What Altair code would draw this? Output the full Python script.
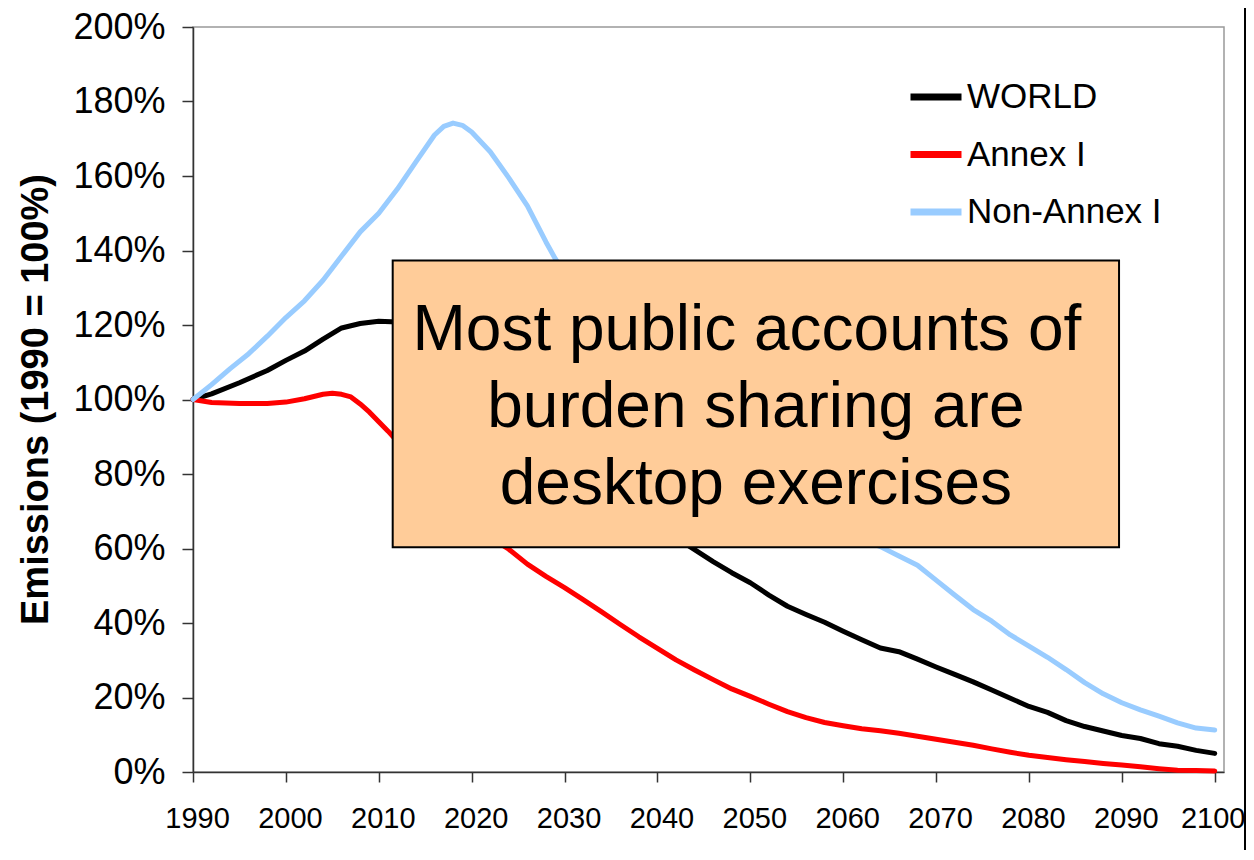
import altair as alt
import pandas as pd

FONT = "Liberation Sans"

# ---- data ----
series_names = ["WORLD", "Annex I", "Non-Annex I"]
series_colors = ["#000000", "#FF0000", "#99CCFF"]

world_years = [1990, 1992, 1995, 1998, 2000, 2002, 2004, 2006, 2008, 2010, 2012, 2015,
               2020, 2025, 2030, 2035, 2040, 2043, 2046, 2048, 2050, 2052, 2054, 2056,
               2058, 2060, 2062, 2064, 2066, 2068, 2070, 2072, 2074, 2076, 2078, 2080,
               2082, 2084, 2086, 2088, 2090, 2092, 2094, 2096, 2098, 2100]
world_vals = [100, 101.5, 104.5, 107.8, 110.5, 113, 116.2, 119.2, 120.4, 121, 120.8, 119,
              113, 103, 91, 79, 68, 61.3, 56.5, 53.5, 50.8, 47.5, 44.5, 42.3,
              40.2, 37.8, 35.5, 33.3, 32.3, 30.3, 28.2, 26.2, 24.2, 22, 19.8, 17.6,
              16, 13.8, 12.2, 11, 9.8, 9, 7.6, 6.9, 5.8, 5]

annex_years = [1990, 1992, 1995, 1998, 2000, 2002, 2004, 2005, 2006, 2007, 2008, 2009,
               2010, 2011, 2013, 2015, 2018, 2020, 2022, 2024, 2026, 2028, 2030, 2032,
               2034, 2036, 2038, 2040, 2042, 2044, 2046, 2048, 2050, 2052, 2054, 2056,
               2058, 2060, 2062, 2064, 2066, 2068, 2070, 2072, 2074, 2076, 2078, 2080,
               2082, 2084, 2086, 2088, 2090, 2092, 2094, 2096, 2098, 2100]
annex_vals = [100, 99.2, 98.9, 98.9, 99.3, 100.2, 101.4, 101.7, 101.4, 100.7, 98.8, 96.6,
              94, 91.5, 86, 80.5, 72.5, 67.5, 63, 59.8, 55.8, 52.5, 49.5, 46.3,
              43, 39.6, 36.3, 33.2, 30.1, 27.4, 24.8, 22.3, 20.3, 18.2, 16.2, 14.6,
              13.3, 12.4, 11.6, 11.1, 10.4, 9.6, 8.8, 8.0, 7.2, 6.2, 5.3, 4.5,
              3.9, 3.3, 2.8, 2.3, 1.9, 1.4, 0.9, 0.5, 0.4, 0.3]

nonannex_years = [1990, 1992, 1994, 1996, 1998, 2000, 2002, 2004, 2006, 2008, 2010, 2012,
                  2014, 2016, 2017, 2018, 2019, 2020, 2022, 2024, 2026, 2028, 2029, 2030,
                  2035, 2040, 2045, 2050, 2055, 2060, 2064, 2066, 2068, 2070, 2072, 2074,
                  2076, 2078, 2080, 2082, 2084, 2086, 2088, 2090, 2092, 2094, 2096, 2098, 2100]
nonannex_vals = [100, 104, 108.3, 112.3, 117, 122, 126.5, 132, 138.5, 145, 150, 156.5,
                 163.8, 171, 173.3, 174.2, 173.6, 171.8, 166.5, 159.5, 152, 142.3, 137.8, 134,
                 116, 100.5, 88, 78.5, 70.5, 64.5, 60.5, 58, 55.5, 51.5, 47.5, 43.6,
                 40.5, 36.8, 33.8, 30.8, 27.5, 24, 21, 18.6, 16.7, 15, 13.2, 11.8, 11.3]

x_ticks = list(range(1990, 2101, 10))
y_ticks = list(range(0, 201, 20))

# annotation box (data coordinates) and its text
box_years = [2011.5, 2089.7]
box_pcts = [60.35, 137.3]
note_first = ["Most public accounts of"]
note_rest = ["burden sharing are", "desktop exercises"]
note_pos = [2050.6, 113.2]

rows = []
for name, yrs, vals in zip(series_names,
                           [world_years, annex_years, nonannex_years],
                           [world_vals, annex_vals, nonannex_vals]):
    for yr, v in zip(yrs, vals):
        rows.append({"series": name, "year": yr, "value": v})
df = pd.DataFrame(rows)

x_scale = alt.Scale(domain=[1990, 2101], nice=False, zero=False)
y_scale = alt.Scale(domain=[0, 200], nice=False)

x_axis = alt.Axis(values=x_ticks, format="d", title=None, labelFontSize=29,
                  labelFont=FONT, labelColor="#000", tickSize=10, labelPadding=22,
                  labelOffset={"condition": {"test": "datum.value >= 2100", "value": -2},
                               "value": 4},
                  grid=False, labelOverlap=False, labelFlush=False, labelBound=False)
y_axis = alt.Axis(values=y_ticks, labelExpr="datum.value + '%'",
                  title="Emissions (1990 = 100%)", labelFontSize=36, labelFont=FONT,
                  labelColor="#000", tickSize=11, labelPadding=17, grid=False,
                  labelOverlap=False, labelFlush=False,
                  titleFont=FONT, titleFontSize=38, titleFontWeight="bold",
                  titleColor="#000", titleAngle=-90, titleAlign="center",
                  titleBaseline="alphabetic", titleX=-146, titleY=372)

lines = alt.Chart(df).mark_line(strokeWidth=5, strokeJoin="round", strokeCap="round").encode(
    x=alt.X("year:Q", scale=x_scale, axis=x_axis),
    y=alt.Y("value:Q", scale=y_scale, axis=y_axis),
    color=alt.Color("series:N",
                    scale=alt.Scale(domain=series_names, range=series_colors),
                    legend=alt.Legend(orient="none", legendX=714, legendY=41, title=None,
                                      symbolType="stroke", symbolSize=2601,
                                      symbolStrokeWidth=7, labelFontSize=35,
                                      labelFont=FONT, labelColor="#000", labelLimit=0,
                                      labelOffset=2, rowPadding=10.5, padding=0)),
)

box_df = pd.DataFrame({"x1": [box_years[0]], "x2": [box_years[1]],
                       "y1": [box_pcts[0]], "y2": [box_pcts[1]]})
box = alt.Chart(box_df).mark_rect(fill="#FFCC99", stroke="#000000", strokeWidth=2).encode(
    x=alt.X("x1:Q", scale=x_scale, axis=x_axis),
    x2="x2:Q",
    y=alt.Y("y1:Q", scale=y_scale, axis=y_axis),
    y2="y2:Q",
)

note_df = pd.DataFrame({"x": [note_pos[0]], "y": [note_pos[1]]})
note1 = alt.Chart(note_df).mark_text(text=note_first, fontSize=64, lineHeight=77, dx=-9,
                                     font=FONT, align="center", baseline="alphabetic",
                                     color="#000").encode(
    x=alt.X("x:Q", scale=x_scale, axis=x_axis),
    y=alt.Y("y:Q", scale=y_scale, axis=y_axis),
)
note2 = alt.Chart(note_df).mark_text(text=note_rest, fontSize=64, lineHeight=77, dy=77,
                                     font=FONT, align="center", baseline="alphabetic",
                                     color="#000").encode(
    x=alt.X("x:Q", scale=x_scale, axis=x_axis),
    y=alt.Y("y:Q", scale=y_scale, axis=y_axis),
)

frame_df = pd.DataFrame({"k": [0]})
left_frame = alt.Chart(frame_df).mark_rule(color="#000", strokeWidth=2).encode(
    x=alt.value(-187), y=alt.value(-30), y2=alt.value(850))
right_frame = alt.Chart(frame_df).mark_rule(color="#000", strokeWidth=2).encode(
    x=alt.value(1052), y=alt.value(-30), y2=alt.value(850))

chart = alt.layer(lines, box, note1, note2, left_frame, right_frame).properties(
    width=1031, height=745, autosize="none",
    padding={"left": 185, "top": 19, "right": 22, "bottom": 78},
).configure_view(stroke="#999999", strokeWidth=1.5).configure_axis(
    domainColor="#333333", tickColor="#333333", domainWidth=1.5, tickWidth=1.5
)

chart.save("out.html", embed_options={"renderer": "svg", "actions": False})
